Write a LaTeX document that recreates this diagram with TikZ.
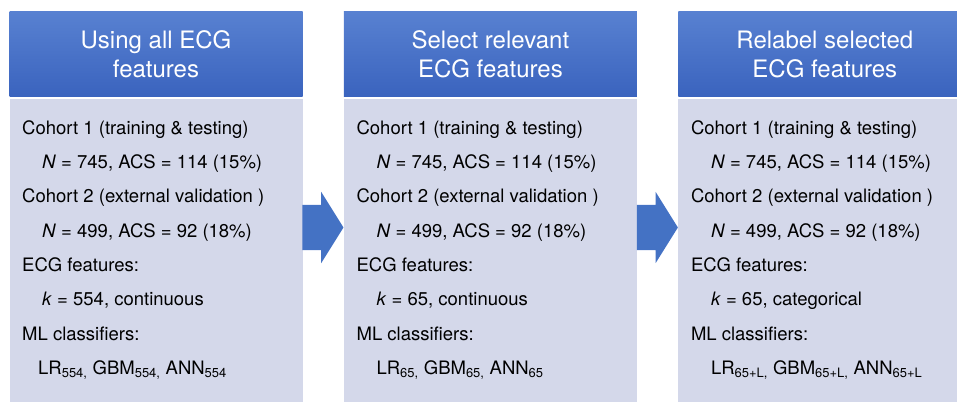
\documentclass[tikz,border=0pt]{standalone}
\usepackage{fontspec}
\setmainfont{TeX Gyre Heros}
\usetikzlibrary{shapes.arrows,positioning}

\definecolor{hdtop}{HTML}{5881D1}
\definecolor{hdbot}{HTML}{3A63BE}
\definecolor{bodyfill}{HTML}{D4D8EA}
\definecolor{arrowblue}{HTML}{4472C4}

\begin{document}
\begin{tikzpicture}[x=1pt, y=-1pt,
  header/.style={rectangle, minimum width=293pt, minimum height=85pt, inner sep=0pt,
    top color=hdtop, bottom color=hdbot, text=white, align=center,
    font=\fontsize{24}{29}\selectfont},
  body/.style={rectangle, fill=bodyfill, minimum width=293pt, minimum height=310pt, inner sep=0pt},
  bodytext/.style={anchor=north west, inner sep=0pt, align=left,
    font=\fontsize{18.5}{34.3}\selectfont},
  bigarrow/.style={single arrow, fill=arrowblue, inner xsep=0pt, inner ysep=22.5pt,
    minimum height=41pt, single arrow head extend=13pt, single arrow tip angle=116, anchor=tip}]

\clip (0,0) rectangle (957,401);

% headers
\node[header] (h1) at (156,54.5) {Using all ECG\\features};
\node[header, right=41pt of h1] (h2) {Select relevant\\ECG features};
\node[header, right=41pt of h2] (h3) {Relabel selected\\ECG features};

% bodies
\node[body, below=2pt of h1] (b1) {};
\node[body, below=2pt of h2] (b2) {};
\node[body, below=2pt of h3] (b3) {};

\node[bodytext] (t1) at ([shift={(12.7,21)}]b1.north west) {Cohort 1 (training \& testing)\\
  \hspace*{20pt}\textit{N} = 745, ACS = 114 (15\%)\\
  Cohort 2 (external validation )\\
  \hspace*{20pt}\textit{N} = 499, ACS = 92 (18\%)\\
  ECG features:\\
  \hspace*{20pt}\textit{k} = 554, continuous\\
  ML classifiers:\\
  \hspace*{16pt}LR\textsubscript{554,} GBM\textsubscript{554,} ANN\textsubscript{554}};
\node[bodytext] (t2) at ([shift={(12.7,21)}]b2.north west) {Cohort 1 (training \& testing)\\
  \hspace*{20pt}\textit{N} = 745, ACS = 114 (15\%)\\
  Cohort 2 (external validation )\\
  \hspace*{20pt}\textit{N} = 499, ACS = 92 (18\%)\\
  ECG features:\\
  \hspace*{20pt}\textit{k} = 65, continuous\\
  ML classifiers:\\
  \hspace*{20pt}LR\textsubscript{65,} GBM\textsubscript{65,} ANN\textsubscript{65}};
\node[bodytext] (t3) at ([shift={(12.7,21)}]b3.north west) {Cohort 1 (training \& testing)\\
  \hspace*{20pt}\textit{N} = 745, ACS = 114 (15\%)\\
  Cohort 2 (external validation )\\
  \hspace*{20pt}\textit{N} = 499, ACS = 92 (18\%)\\
  ECG features:\\
  \hspace*{20pt}\textit{k} = 65, categorical\\
  ML classifiers:\\
  \hspace*{20pt}LR\textsubscript{65+L,} GBM\textsubscript{65+L,} ANN\textsubscript{65+L}};

% arrows between the steps
\node[bigarrow] (a1) at (b2.west |- 0,227.5) {};
\node[bigarrow] (a2) at (b3.west |- 0,227.5) {};
\end{tikzpicture}
\end{document}
